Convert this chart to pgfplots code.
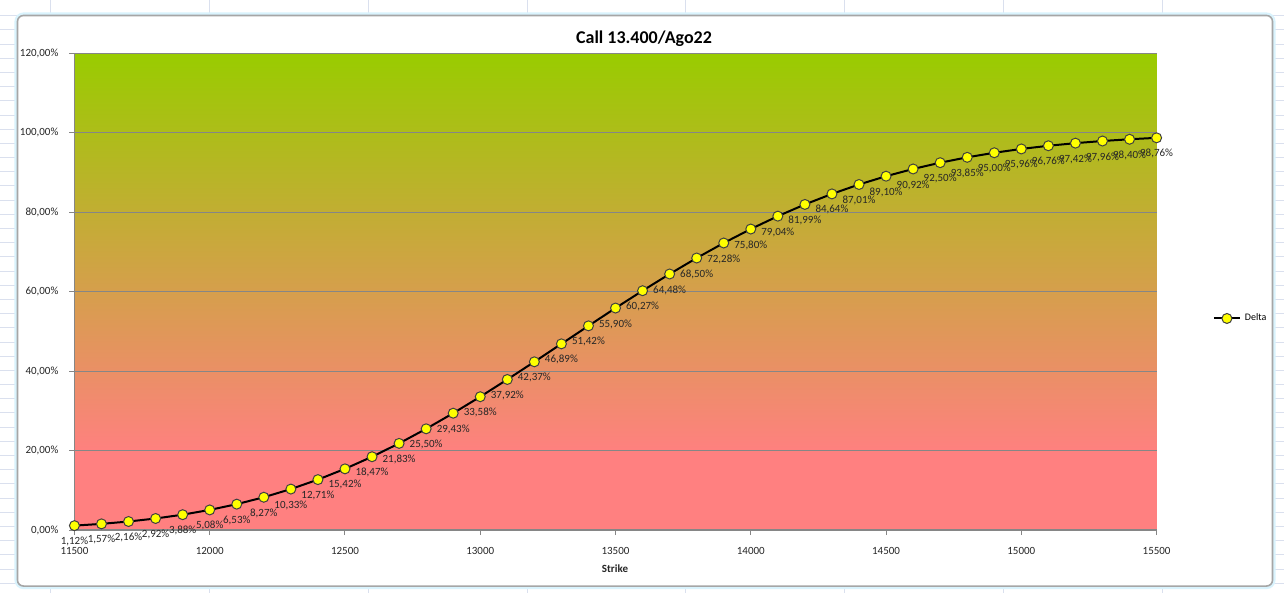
\documentclass[border=0pt]{standalone}
\usepackage{pgfplots}
\pgfplotsset{compat=1.18}
\usepackage{pgfplotstable}
\usepackage{fontspec}
\setmainfont{Carlito}
\definecolor{lgreen}{RGB}{153,204,0}
\definecolor{lred}{RGB}{255,128,128}
\definecolor{gridgray}{RGB}{134,134,134}
\definecolor{xlgrid}{RGB}{218,224,238}
\definecolor{mkyellow}{RGB}{255,255,0}
\pgfdeclareverticalshading{bgshade}{100bp}{color(0bp)=(lred); color(25bp)=(lred); color(33bp)=(lred); color(75bp)=(lgreen); color(100bp)=(lgreen)}
\pgfplotstableread{
x y
11500 1.12
11600 1.57
11700 2.16
11800 2.92
11900 3.88
12000 5.08
12100 6.53
12200 8.27
12300 10.33
12400 12.71
12500 15.42
12600 18.47
12700 21.83
12800 25.50
12900 29.43
13000 33.58
13100 37.92
13200 42.37
13300 46.89
13400 51.42
13500 55.90
13600 60.27
13700 64.48
13800 68.50
13900 72.28
14000 75.80
14100 79.04
14200 81.99
14300 84.64
14400 87.01
14500 89.10
14600 90.92
14700 92.50
14800 93.85
14900 95.00
15000 95.96
15100 96.76
15200 97.42
15300 97.96
15400 98.40
15500 98.76
}\deltatable
\begin{document}
\begin{tikzpicture}
\begin{scope}[x=0.5pt,y=-0.5pt]
  \fill[white] (0,0) rectangle (1284,593);
  \foreach \gx in {50,209,368,527,686,845,1004,1163} \draw[xlgrid,line width=0.5pt] (\gx,0) -- (\gx,593);
  \foreach \gy in {1,...,41} \draw[xlgrid,line width=0.5pt] (0,{\gy*14.2+1}) -- (1284,{\gy*14.2+1});
  \draw[cyan!15,line width=3pt,rounded corners=3pt] (17,15) rectangle (1273,586);
  \draw[fill=white,draw=gray!70,line width=0.8pt,rounded corners=3pt] (17,15) rectangle (1273,586);
  \node[font=\bfseries\fontsize{9}{11}\selectfont] at (644,38) {Call 13.400/Ago22};
  \node[font=\bfseries\fontsize{5.5}{7}\selectfont, text=black!85] at (615,569) {Strike};
\end{scope}
\begin{axis}[
  at={(37pt,-265pt)}, anchor=south west,
  width=541.5pt, height=238.5pt, scale only axis,
  xmin=11500, xmax=15500, ymin=0, ymax=120,
  scaled x ticks=false, scaled y ticks=false,
  axis background/.style={shading=bgshade},
  axis x line*=bottom, axis y line*=left,
  axis line style={gridgray, line width=0.6pt},
  xtick={11500,12000,...,15500},
  xticklabels={11500,12000,12500,13000,13500,14000,14500,15000,15500},
  ytick={0,20,40,60,80,100,120},
  yticklabels={0{,}00\%,20{,}00\%,40{,}00\%,60{,}00\%,80{,}00\%,100{,}00\%,120{,}00\%},
  ymajorgrids, major grid style={gridgray, line width=0.5pt},
  tick style={gridgray, line width=0.5pt},
  tick align=outside, major tick length=2.5pt,
  ticklabel style={font=\fontsize{5.5}{6.5}\selectfont, text=black!85},
  xticklabel style={yshift=-2.5pt},
  yticklabel style={xshift=-2pt},
  clip=false,
  legend style={at={(1.0517,0.444)}, anchor=west, draw=none, fill=none,
    font=\fontsize{5}{6}\selectfont, inner sep=0pt},
  legend image code/.code={\draw[#1, mark repeat=2, mark phase=2] plot coordinates {(0pt,0pt) (6.5pt,0pt) (13pt,0pt)};},
]
\addplot[black, line width=1pt, mark=*, mark size=2.5pt,
  mark options={fill=mkyellow, draw=black!75, line width=0.5pt},
  point meta=y,
  nodes near coords={\pgfmathprintnumber[fixed,zerofill,precision=2,use comma,assume math mode=true]{\pgfplotspointmeta}\%},
  every node near coord/.append style={anchor=center, yshift=-8pt, font=\fontsize{5.5}{6.5}\selectfont, text=black!85, inner sep=0pt},
] table[x=x,y=y] {\deltatable};
\addlegendentry{Delta}
\end{axis}
\end{tikzpicture}
\end{document}
